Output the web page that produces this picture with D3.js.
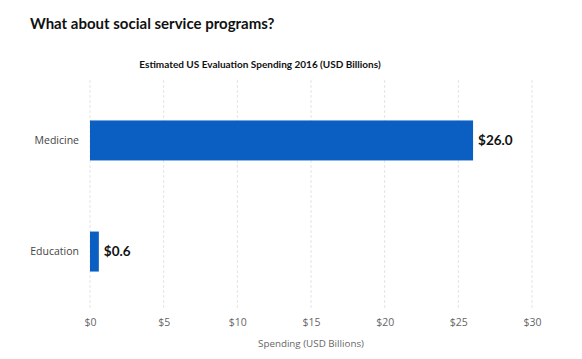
<!DOCTYPE html>
<html><head><meta charset="utf-8">
<script src="https://cdn.jsdelivr.net/npm/d3@7"></script>
<style>body{margin:0;background:#fff}svg{display:block}</style>
</head><body>
<script>
const categories = ["Medicine", "Education"];
const values = [26.0, 0.6];
const xTicks = [0, 5, 10, 15, 20, 25, 30];
const title = "What about social service programs?";
const subtitle = "Estimated US Evaluation Spending 2016 (USD Billions)";
const xTitle = "Spending (USD Billions)";

const W = 582, H = 359;
const svg = d3.select("body").append("svg").attr("width", W).attr("height", H);

const x = d3.scaleLinear().domain([0, 30]).range([90, 532]);
const y = d3.scaleBand().domain(categories).range([86, 306]).paddingInner(0.64).paddingOuter(0.31);

// gridlines
svg.append("g").selectAll("line").data(xTicks).join("line")
  .attr("x1", d => x(d)).attr("x2", d => x(d))
  .attr("y1", 80).attr("y2", 308)
  .attr("stroke", "#e4e4e4").attr("stroke-width", 1).attr("stroke-dasharray", "3,2");

// bars
svg.append("g").selectAll("rect").data(categories).join("rect")
  .attr("x", x(0)).attr("y", d => y(d))
  .attr("width", (d, i) => x(values[i]) - x(0))
  .attr("height", y.bandwidth())
  .attr("fill", "#0b5fc2");

// value labels
svg.append("g").selectAll("text").data(categories).join("text")
  .attr("x", (d, i) => x(values[i]) + 5)
  .attr("y", d => y(d) + y.bandwidth() / 2)
  .attr("dy", "0.35em")
  .attr("font-family", "Lato, 'Open Sans', sans-serif")
  .attr("font-weight", "bold").attr("font-size", 13.5).attr("fill", "#111")
  .text((d, i) => "$" + values[i].toFixed(1));

// y axis labels
const yAxis = d3.axisLeft(y).tickSize(0).tickPadding(11);
const gy = svg.append("g").attr("transform", `translate(${x(0)},0)`).call(yAxis);
gy.select(".domain").remove();
gy.selectAll("text").attr("font-family", "'Open Sans', sans-serif").attr("font-size", 10.5).attr("fill", "#444");

// x axis labels
const xAxis = d3.axisBottom(x).tickValues(xTicks).tickSize(0).tickPadding(0).tickFormat(d => "$" + d);
const gx = svg.append("g").attr("transform", `translate(0,319)`).call(xAxis);
gx.select(".domain").remove();
gx.selectAll("text").attr("font-family", "'Open Sans', sans-serif").attr("font-size", 10.5).attr("fill", "#666");

svg.append("text").attr("x", 311).attr("y", 347).attr("text-anchor", "middle")
  .attr("font-family", "'Open Sans', sans-serif").attr("font-size", 9.8).attr("fill", "#666")
  .text(xTitle);

svg.append("text").attr("x", 30).attr("y", 29)
  .attr("font-family", "Lato, 'Open Sans', sans-serif").attr("font-weight", "bold").attr("font-size", 15).attr("fill", "#111")
  .text(title);

svg.append("text").attr("x", 260).attr("y", 68).attr("text-anchor", "middle")
  .attr("font-family", "Lato, 'Open Sans', sans-serif").attr("font-weight", "bold").attr("font-size", 10).attr("fill", "#111")
  .text(subtitle);
</script>
</body></html>
